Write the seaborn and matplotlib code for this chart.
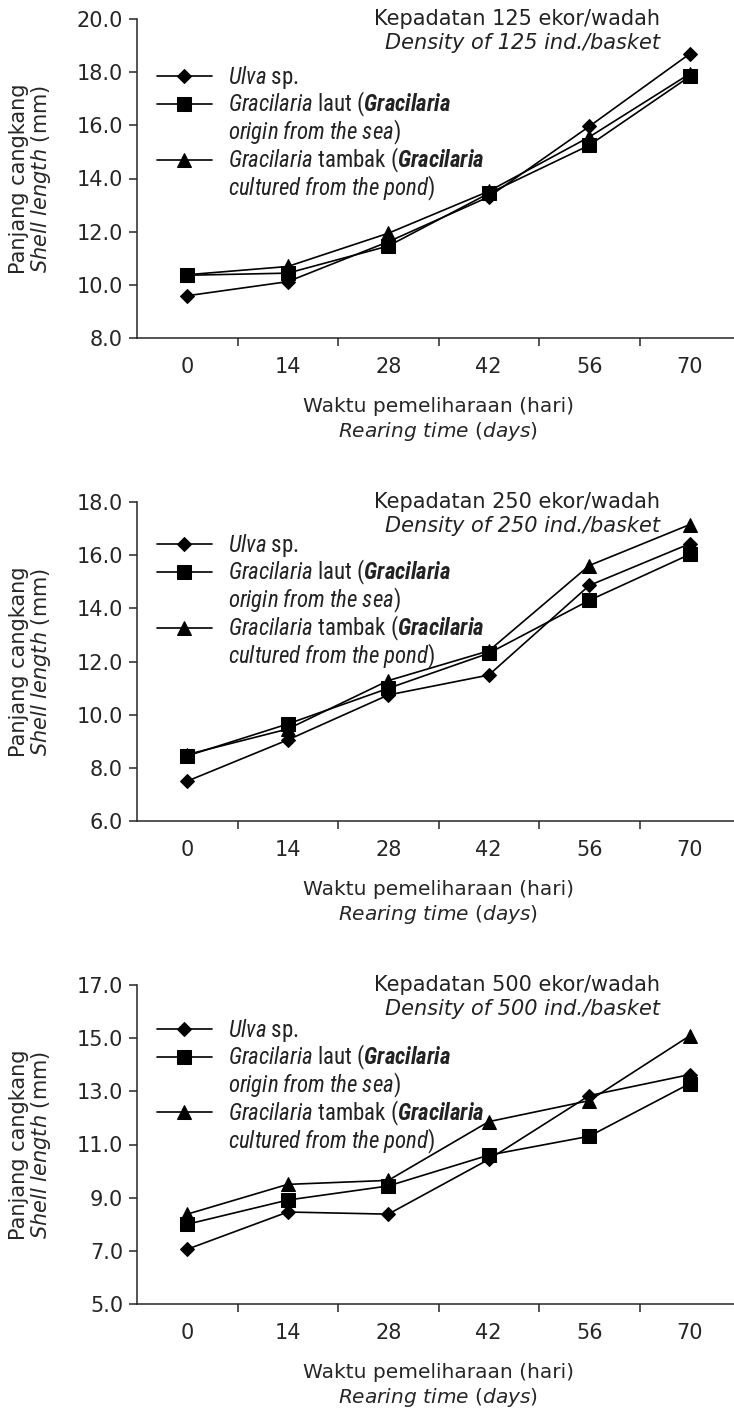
import numpy as np
import pandas as pd
import seaborn as sns
import matplotlib.pyplot as plt
from matplotlib import font_manager as fm
from matplotlib.lines import Line2D

days = ['0', '14', '28', '42', '56', '70']
densities = ['125', '250', '500']

# panel 1 : 125 ekor/wadah
ulva_125 = [9.59, 10.12, 11.62, 13.31, 15.96, 18.69]
laut_125 = [10.36, 10.44, 11.46, 13.44, 15.25, 17.84]
tambak_125 = [10.38, 10.69, 11.94, 13.52, 15.56, 17.94]
# panel 2 : 250 ekor/wadah
ulva_250 = [7.50, 9.05, 10.74, 11.49, 14.86, 16.43]
laut_250 = [8.45, 9.65, 10.99, 12.31, 14.30, 16.03]
tambak_250 = [8.50, 9.46, 11.28, 12.40, 15.61, 17.15]
# panel 3 : 500 ekor/wadah
ulva_500 = [7.06, 8.46, 8.38, 10.44, 12.84, 13.63]
laut_500 = [8.00, 8.91, 9.44, 10.60, 11.31, 13.29]
tambak_500 = [8.38, 9.50, 9.65, 11.86, 12.65, 15.09]

y_ranges = [(8.0, 20.0), (6.0, 18.0), (5.0, 17.0)]
y_steps = [2.0, 2.0, 2.0]

sns.set_style('ticks')

# pick a condensed face for the legend if one is installed
fonts = fm.fontManager.ttflist
names = {f.name for f in fonts}
narrow, stretch = 'Roboto', 'normal'
for cand in ['Liberation Sans Narrow', 'Roboto Condensed', 'Open Sans Condensed', 'Arial Narrow']:
    if cand in names:
        narrow = cand
        break
else:
    for fam in ['DejaVu Sans', 'Noto Sans', 'Open Sans', 'Roboto']:
        if any(f.name == fam and 'condensed' in str(f.stretch) for f in fonts):
            narrow, stretch = fam, 'condensed'
            break

plt.rcParams['font.family'] = ['DejaVu Sans']
plt.rcParams['mathtext.fontset'] = 'custom'
plt.rcParams['mathtext.it'] = 'DejaVu Sans:italic'
plt.rcParams['mathtext.rm'] = 'DejaVu Sans'
sfx = ':condensed' if stretch == 'condensed' else ''
plt.rcParams['mathtext.sf'] = narrow + ':italic' + sfx
plt.rcParams['mathtext.bfit'] = narrow + ':italic:bold' + sfx
plt.rcParams['axes.linewidth'] = 1.1
plt.rcParams['text.color'] = '#222222'

series_names = ['Ulva', 'laut', 'tambak']
# legend rows: first line goes with the marker, second line hangs under it
leg_rows = [
    r'$\mathsf{Ulva}$ sp.',
    r'$\mathsf{Gracilaria}$ laut ($\mathbfit{Gracilaria}$',
    r'$\mathsf{origin\:from\:the\:sea}$)',
    r'$\mathsf{Gracilaria}$ tambak ($\mathbfit{Gracilaria}$',
    r'$\mathsf{cultured\:from\:the\:pond}$)',
]
markers = ['D', 's', '^']
msizes = [7.5, 10, 10.5]

panels = [
    [ulva_125, laut_125, tambak_125],
    [ulva_250, laut_250, tambak_250],
    [ulva_500, laut_500, tambak_500],
]

fig = plt.figure(figsize=(7.34, 14.09), dpi=100)
W, H = 734, 1409
tops = [19, 502, 985]
ph = 319
leg_y = [0.858, 0.905, 0.899]

for i, series in enumerate(panels):
    top = tops[i]
    ax = fig.add_axes([137 / W, 1 - (top + ph) / H, 603 / W, ph / H])
    pos = np.arange(len(days))
    for vals, name, mk, ms in zip(series, series_names, markers, msizes):
        df = pd.DataFrame({'pos': pos, 'val': vals})
        sns.lineplot(data=df, x='pos', y='val', ax=ax, color='black', lw=1.2,
                     marker=mk, markersize=ms, markeredgecolor='black',
                     label=name)
    lo, hi = y_ranges[i]
    ax.set_ylim(lo, hi)
    ax.set_yticks(np.arange(lo, hi + 0.01, y_steps[i]))
    ax.set_yticklabels([f'{v:.1f}' for v in np.arange(lo, hi + 0.01, y_steps[i])])
    ax.set_xlim(-0.5, 5.5)
    ax.set_xticks(pos)
    ax.set_xticklabels(days)
    ax.set_xticks(pos[:-1] + 0.5, minor=True)
    ax.tick_params(axis='x', which='major', length=0, pad=14, labelsize=15)
    ax.tick_params(axis='x', which='minor', length=6, width=1.1, direction='out')
    ax.tick_params(axis='y', length=6, width=1.1, direction='out', labelsize=15, pad=4)
    sns.despine(ax=ax)
    ax.set_xlabel('Waktu pemeliharaan (hari)\n' + r'$\mathit{Rearing\ time}$ ($\mathit{days}$)',
                  fontsize=14.5, labelpad=14, linespacing=1.25)
    ax.set_ylabel('Panjang cangkang\n' + r'$\mathit{Shell\ length}$ (mm)',
                  fontsize=15, linespacing=1.0)
    ax.yaxis.set_label_coords(-0.139, 0.5)
    ax.text(0.867, 1.0, f'Kepadatan {densities[i]} ekor/wadah', transform=ax.transAxes,
            ha='right', va='center', fontsize=15)
    ax.text(0.867, 0.925, f'Density of {densities[i]} ind./basket', transform=ax.transAxes,
            ha='right', va='center', fontsize=15, style='italic')
    h, _ = ax.get_legend_handles_labels()
    blank = Line2D([], [], alpha=0)
    ax.legend([h[0], h[1], blank, h[2], blank], leg_rows,
              loc='upper left', bbox_to_anchor=(0.033, leg_y[i]), frameon=False,
              prop={'family': narrow, 'size': 16.5, 'stretch': stretch},
              handlelength=2.4, handletextpad=0.7, borderpad=0, borderaxespad=0,
              labelspacing=-0.05)

fig.savefig('out.png', dpi=100)
